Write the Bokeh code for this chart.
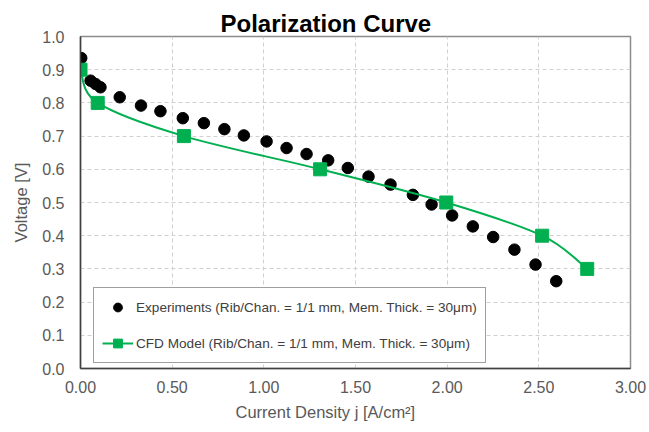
from bokeh.plotting import figure
from bokeh.models import (FixedTicker, NumeralTickFormatter, Range1d, Legend,
                          LegendItem, Title, ColumnDataSource)
from bokeh.embed import file_html
from bokeh.resources import INLINE

# ---- data ----
exp_j = [0.004, 0.055, 0.082, 0.109, 0.214, 0.330, 0.436, 0.558, 0.673, 0.785,
         0.891, 1.015, 1.124, 1.233, 1.351, 1.458, 1.571, 1.691, 1.813, 1.915,
         2.027, 2.140, 2.251, 2.367, 2.482, 2.595]
exp_v = [0.935, 0.867, 0.857, 0.847, 0.817, 0.792, 0.775, 0.754, 0.739, 0.721,
         0.702, 0.684, 0.664, 0.646, 0.627, 0.604, 0.578, 0.554, 0.523, 0.494,
         0.461, 0.428, 0.396, 0.358, 0.313, 0.263]

cfd_j = [0.0, 0.094, 0.564, 1.307, 1.995, 2.518, 2.764]
cfd_v = [0.90, 0.80, 0.70, 0.60, 0.50, 0.40, 0.30]

x_ticks = [0.0, 0.5, 1.0, 1.5, 2.0, 2.5, 3.0]
y_ticks = [0.0, 0.1, 0.2, 0.3, 0.4, 0.5, 0.6, 0.7, 0.8, 0.9, 1.0]

exp_label = "Experiments (Rib/Chan. = 1/1 mm, Mem. Thick. = 30\u03bcm)"
cfd_label = "CFD Model (Rib/Chan. = 1/1 mm, Mem. Thick. = 30\u03bcm)"

GREEN = "#00B050"
FONT = "Liberation Sans"
TXT = "#595959"

p = figure(width=649, height=432, output_backend="svg", toolbar_location=None,
           x_range=Range1d(0, 3), y_range=Range1d(0, 1.0),
           min_border_left=80, min_border_right=19, min_border_top=36,
           min_border_bottom=64)
p.title.text = ""
p.title.standoff = 0
p.background_fill_color = "white"
p.border_fill_color = "white"
p.outline_line_color = "#8c8c8c"
p.outline_line_width = 1.5

# title, centered over the whole chart
t = Title(text="Polarization Curve", align="left", offset=140, standoff=0,
          text_font=FONT, text_font_size="24px", text_font_style="bold",
          text_color="#000000", text_line_height=1.0)
p.add_layout(t, "above")

# axes
for ax in (p.xaxis[0], p.yaxis[0]):
    ax.axis_line_color = "#404040"
    ax.axis_line_width = 1.5
    ax.major_tick_line_color = None
    ax.minor_tick_line_color = None
    ax.major_tick_out = 0
    ax.major_tick_in = 0
    ax.major_label_text_font = FONT
    ax.major_label_text_font_size = "16px"
    ax.major_label_text_color = TXT
    ax.axis_label_text_font = FONT
    ax.axis_label_text_font_size = "16.5px"
    ax.axis_label_text_font_style = "normal"
    ax.axis_label_text_color = TXT

p.xaxis.ticker = FixedTicker(ticks=x_ticks)
p.yaxis.ticker = FixedTicker(ticks=y_ticks)
p.xaxis.formatter = NumeralTickFormatter(format="0.00")
p.yaxis.formatter = NumeralTickFormatter(format="0.0")
p.xaxis.major_label_standoff = 12
p.yaxis.major_label_standoff = 16
p.yaxis.axis_label = "Voltage [V]"
p.yaxis.axis_label_standoff = 9

xt = Title(text="Current Density j [A/cm\u00b2]", align="left", offset=155,
           text_font=FONT, text_font_size="16.5px", text_font_style="normal",
           text_color=TXT)
p.add_layout(xt, "below")

# grid
for g in (p.xgrid[0], p.ygrid[0]):
    g.grid_line_color = "#d0d0d0"
    g.grid_line_dash = "4 3"
    g.grid_line_width = 1

# experiments
r_exp = p.scatter(exp_j, exp_v, marker="circle", size=11.5,
                  fill_color="black", line_color="black")

# CFD smoothed curve (cubic Bezier through the points, Catmull-Rom tangents)
n = len(cfd_j)
x0, y0, x1, y1, cx0, cy0, cx1, cy1 = [], [], [], [], [], [], [], []
for i in range(n - 1):
    pm = max(i - 1, 0)
    pp = min(i + 2, n - 1)
    x0.append(cfd_j[i]); y0.append(cfd_v[i])
    x1.append(cfd_j[i + 1]); y1.append(cfd_v[i + 1])
    cx0.append(cfd_j[i] + (cfd_j[i + 1] - cfd_j[pm]) / 6.0)
    cy0.append(cfd_v[i] + (cfd_v[i + 1] - cfd_v[pm]) / 6.0)
    cx1.append(cfd_j[i + 1] - (cfd_j[pp] - cfd_j[i]) / 6.0)
    cy1.append(cfd_v[i + 1] - (cfd_v[pp] - cfd_v[i]) / 6.0)
bsrc = ColumnDataSource(dict(x0=x0, y0=y0, x1=x1, y1=y1,
                             cx0=cx0, cy0=cy0, cx1=cx1, cy1=cy1))
r_curve = p.bezier(x0="x0", y0="y0", x1="x1", y1="y1", cx0="cx0", cy0="cy0",
                   cx1="cx1", cy1="cy1", source=bsrc, line_color=GREEN,
                   line_width=2)
r_cfd = p.scatter(cfd_j, cfd_v, marker="square", size=13,
                  fill_color=GREEN, line_color=GREEN)

legend = Legend(items=[LegendItem(label=exp_label, renderers=[r_exp]),
                       LegendItem(label=cfd_label, renderers=[r_curve, r_cfd])],
                location=(13, 5), orientation="vertical",
                padding=8, spacing=14, margin=0,
                glyph_width=31, glyph_height=22, label_height=22,
                label_standoff=3,
                label_text_font=FONT, label_text_font_size="13.6px",
                label_text_color="#404040",
                border_line_color="#404040", border_line_width=1.5,
                background_fill_color="white", background_fill_alpha=1.0)
p.add_layout(legend, "center")

open("out.html", "w").write(file_html(p, INLINE))
